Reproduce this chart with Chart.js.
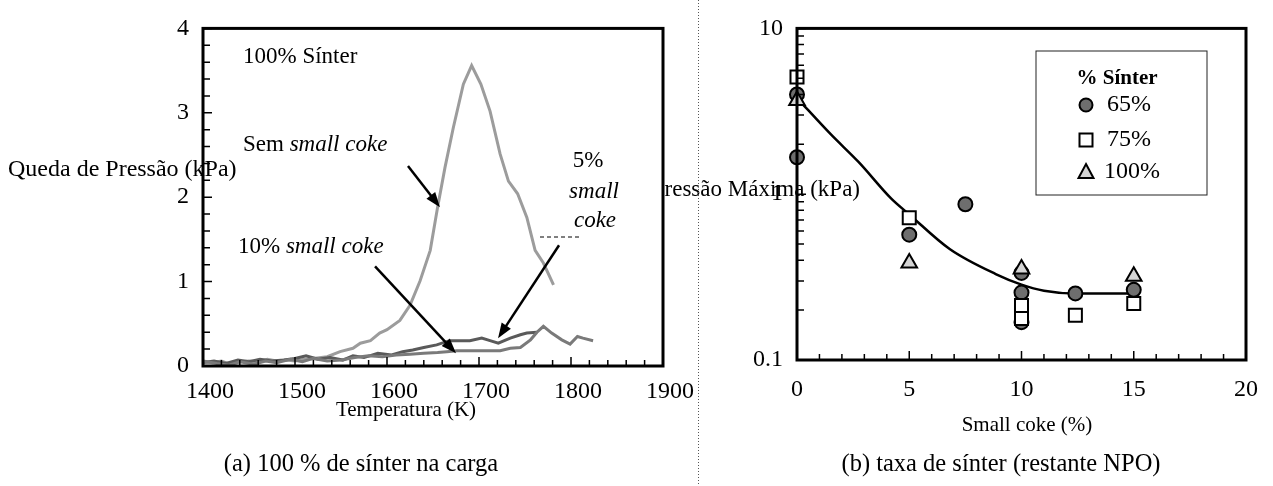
<!DOCTYPE html>
<html>
<head>
<meta charset="utf-8">
<script src="https://cdn.jsdelivr.net/npm/chart.js@4.4.1/dist/chart.umd.min.js"></script>
<style>
  html, body { margin: 0; padding: 0; background: #fff; }
  #wrap { position: relative; width: 1273px; height: 486px; overflow: hidden; }
  #chartRight { position: absolute; left: 655px; top: 0; z-index: 1; }
  #chartLeft { position: absolute; left: 0; top: 0; z-index: 2; }
</style>
</head>
<body>
<div id="wrap">
  <canvas id="chartRight" width="618" height="486"></canvas>
  <canvas id="chartLeft" width="698" height="486"></canvas>
</div>
<script>
// (a) pressure drop vs temperature, 100% sinter burden
const tempNoCoke = [1400, 1410, 1420, 1430, 1440, 1450, 1460, 1470, 1480, 1490, 1500, 1510, 1520, 1535, 1549, 1563, 1571, 1582, 1592, 1600, 1614, 1625, 1636, 1647, 1655, 1663, 1672, 1683, 1692, 1702, 1712, 1723, 1732, 1742, 1752, 1761, 1770, 1781]
const dpNoCoke = [0.05, 0.04, 0.06, 0.02, 0.05, 0.06, 0.05, 0.08, 0.06, 0.07, 0.06, 0.08, 0.09, 0.11, 0.17, 0.21, 0.27, 0.30, 0.39, 0.43, 0.54, 0.72, 1.01, 1.37, 1.88, 2.35, 2.82, 3.34, 3.56, 3.34, 3.02, 2.51, 2.19, 2.04, 1.76, 1.37, 1.22, 0.96]

const temp5 = [1400, 1412, 1425, 1438, 1450, 1462, 1475, 1488, 1500, 1512, 1525, 1538, 1552, 1563, 1575, 1590, 1605, 1617, 1628, 1640, 1654, 1668, 1680, 1690, 1703, 1712, 1721, 1734, 1745, 1752, 1763]
const dp5 = [0.04, 0.06, 0.03, 0.07, 0.05, 0.08, 0.06, 0.07, 0.09, 0.12, 0.08, 0.10, 0.07, 0.12, 0.10, 0.15, 0.13, 0.17, 0.19, 0.22, 0.25, 0.30, 0.30, 0.30, 0.33, 0.30, 0.27, 0.33, 0.37, 0.39, 0.40]

const temp10 = [1400, 1415, 1428, 1440, 1455, 1468, 1480, 1495, 1508, 1520, 1535, 1550, 1565, 1580, 1595, 1610, 1625, 1640, 1655, 1665, 1676, 1700, 1723, 1734, 1745, 1756, 1763, 1770, 1779, 1790, 1799, 1807, 1813, 1824]
const dp10 = [0.06, 0.03, 0.01, 0.05, 0.02, 0.06, 0.04, 0.08, 0.05, 0.09, 0.06, 0.07, 0.10, 0.12, 0.11, 0.13, 0.14, 0.15, 0.16, 0.17, 0.18, 0.18, 0.18, 0.21, 0.22, 0.31, 0.40, 0.47, 0.39, 0.31, 0.26, 0.35, 0.33, 0.30]

const tempTicks = [1400, 1500, 1600, 1700, 1800, 1900]

// (b) maximum pressure vs small coke, by sinter ratio
const coke65 = [0, 0, 5, 7.5, 10, 10, 10, 12.4, 15]
const pmax65 = [4.0, 1.67, 0.57, 0.87, 0.335, 0.255, 0.169, 0.252, 0.265]
const coke75 = [0, 5, 10, 10, 12.4, 15]
const pmax75 = [5.1, 0.72, 0.213, 0.178, 0.186, 0.219]
const coke100 = [0, 5, 10, 15]
const pmax100 = [3.67, 0.385, 0.354, 0.32]
const cokeFit = [0, 1.5, 2.75, 4.2, 5, 6.8, 8.85, 10, 11, 12.4, 15]
const pmaxFit = [3.8, 2.3, 1.56, 0.94, 0.755, 0.467, 0.33, 0.285, 0.262, 0.252, 0.252]

const legendLabels = ['65%', '75%', '100%']

const SERIF = "'Liberation Serif', 'Times New Roman', serif"
Chart.defaults.font.family = SERIF
Chart.defaults.color = '#000'

const pts = (xs, ys) => xs.map((x, i) => ({ x, y: ys[i] }))

function font(size, style = '', weight = '') {
  return `${style} ${weight} ${size}px ${SERIF}`.trim()
}

function text(ctx, str, x, y, size, align = 'left', style = '') {
  ctx.font = font(size, style)
  ctx.textAlign = align
  ctx.textBaseline = 'middle'
  ctx.fillText(str, x, y)
}

// plain label followed by an italic part
function mixed(ctx, plain, ital, x, y, size) {
  ctx.font = font(size)
  ctx.textAlign = 'left'
  ctx.textBaseline = 'middle'
  ctx.fillText(plain, x, y)
  const w = ctx.measureText(plain).width
  ctx.font = font(size, 'italic')
  ctx.fillText(ital, x + w, y)
}

function arrow(ctx, x1, y1, x2, y2) {
  const a = Math.atan2(y2 - y1, x2 - x1), len = 15, w = 5.5
  ctx.lineWidth = 2.5
  ctx.beginPath()
  ctx.moveTo(x1, y1)
  ctx.lineTo(x2 - Math.cos(a) * len * 0.8, y2 - Math.sin(a) * len * 0.8)
  ctx.stroke()
  ctx.beginPath()
  ctx.moveTo(x2, y2)
  ctx.lineTo(x2 - len * Math.cos(a) + w * Math.sin(a), y2 - len * Math.sin(a) - w * Math.cos(a))
  ctx.lineTo(x2 - len * Math.cos(a) - w * Math.sin(a), y2 - len * Math.sin(a) + w * Math.cos(a))
  ctx.closePath()
  ctx.fill()
}

// inward tick marks on bottom and left axes plus the plot frame
function frameAndTicks(chart, xTicks, yTicks) {
  const { ctx, chartArea: a, scales: { x, y } } = chart
  ctx.save()
  ctx.strokeStyle = '#000'
  ctx.lineWidth = 1.5
  ctx.beginPath()
  xTicks.forEach(([v, len]) => {
    const px = x.getPixelForValue(v)
    ctx.moveTo(px, a.bottom)
    ctx.lineTo(px, a.bottom - len)
  })
  yTicks.forEach(([v, len]) => {
    const py = y.getPixelForValue(v)
    ctx.moveTo(a.left, py)
    ctx.lineTo(a.left + len, py)
  })
  ctx.stroke()
  ctx.lineWidth = 3
  ctx.strokeRect(a.left, a.top, a.right - a.left, a.bottom - a.top)
  ctx.restore()
}

const leftDecor = {
  id: 'leftDecor',
  // white plot background, it hides whatever of the neighbour panel runs under it
  beforeDatasetsDraw(chart) {
    const { ctx, chartArea: a } = chart
    ctx.save()
    ctx.fillStyle = '#fff'
    ctx.fillRect(a.left, a.top, a.right - a.left, a.bottom - a.top)
    ctx.restore()
  },
  afterDraw(chart) {
    const { ctx, scales: { x, y } } = chart
    const xt = [], yt = []
    for (let t = 1400; t <= 1900; t += 20) xt.push([t, t % 100 === 0 ? 9 : 6])
    for (let i = 0; i <= 20; i++) yt.push([i * 0.2, i % 5 === 0 ? 9 : 7])
    frameAndTicks(chart, xt, yt)

    ctx.save()
    ctx.fillStyle = '#000'
    ctx.strokeStyle = '#000'
    text(ctx, '100% Sínter', 243, 57, 23)
    mixed(ctx, 'Sem ', 'small coke', 243, 145, 23)
    mixed(ctx, '10% ', 'small coke', 238, 247, 23)
    text(ctx, '5%', 588, 161, 23, 'center')
    text(ctx, 'small', 594, 192, 23, 'center', 'italic')
    text(ctx, 'coke', 595, 221, 23, 'center', 'italic')

    ctx.lineWidth = 1
    ctx.setLineDash([4, 3])
    ctx.beginPath(); ctx.moveTo(540, 237); ctx.lineTo(582, 237); ctx.stroke()
    ctx.setLineDash([])

    const px = (t, v) => [x.getPixelForValue(t), y.getPixelForValue(v)]
    arrow(ctx, ...px(1622.8, 2.37), ...px(1657.6, 1.88))
    arrow(ctx, ...px(1587, 1.18), ...px(1675, 0.15))
    arrow(ctx, ...px(1787, 1.43), ...px(1720.7, 0.33))

    text(ctx, 'Queda de Pressão (kPa)', 8, 170, 24)
    text(ctx, 'Temperatura (K)', 406, 410, 21, 'center')
    text(ctx, '(a) 100 % de sínter na carga', 361, 465, 24.5, 'center')
    ctx.restore()
  }
}

function marker(ctx, style, cx, cy) {
  ctx.lineWidth = 2
  ctx.strokeStyle = '#000'
  ctx.beginPath()
  if (style === 'circle') {
    ctx.fillStyle = '#6e6e6e'
    ctx.arc(cx, cy, 6.5, 0, Math.PI * 2)
  } else if (style === 'rect') {
    ctx.fillStyle = '#fff'
    ctx.rect(cx - 6.5, cy - 6.5, 13, 13)
  } else {
    ctx.fillStyle = '#d4d4d4'
    ctx.moveTo(cx, cy - 8)
    ctx.lineTo(cx + 7.5, cy + 6)
    ctx.lineTo(cx - 7.5, cy + 6)
    ctx.closePath()
  }
  ctx.fill()
  ctx.stroke()
}

const OFF = 655 // right canvas left edge on the page

const rightDecor = {
  id: 'rightDecor',
  afterDraw(chart) {
    const { ctx } = chart
    const xt = [], yt = []
    for (let c = 0; c <= 20; c++) xt.push([c, c % 5 === 0 ? 9 : 6])
    ;[0.1, 1].forEach(d => { for (let m = 1; m <= 9; m++) yt.push([d * m, m === 1 ? 9 : 7]) })
    yt.push([10, 9])
    frameAndTicks(chart, xt, yt)

    ctx.save()
    ctx.fillStyle = '#000'
    // legend box
    ctx.strokeStyle = '#222'
    ctx.lineWidth = 1
    ctx.strokeRect(1036 - OFF, 51, 171, 144)
    ctx.font = font(21, '', 'bold')
    ctx.textAlign = 'center'
    ctx.textBaseline = 'middle'
    ctx.fillText('% Sínter', 1117 - OFF, 79)
    const styles = ['circle', 'rect', 'triangle']
    const rows = [105, 140, 172]
    styles.forEach((s, i) => {
      marker(ctx, s, 1086 - OFF, rows[i])
      ctx.fillStyle = '#000'
      text(ctx, legendLabels[i], (i === 2 ? 1104 : 1107) - OFF, rows[i], 24)
    })

    ctx.fillStyle = '#000'
    text(ctx, 'Pressão Máxima (kPa)', 860 - OFF, 190, 23, 'right')
    text(ctx, 'Small coke (%)', 1027 - OFF, 425, 21, 'center')
    text(ctx, '(b) taxa de sínter (restante NPO)', 1001 - OFF, 465, 24.5, 'center')

    // panel separator
    ctx.strokeStyle = '#555'
    ctx.lineWidth = 1
    ctx.setLineDash([1, 2])
    ctx.beginPath(); ctx.moveTo(698 - OFF + 0.5, 0); ctx.lineTo(698 - OFF + 0.5, 486); ctx.stroke()
    ctx.restore()
  }
}

const hiddenGrid = { display: false, drawTicks: false }

new Chart(document.getElementById('chartLeft'), {
  type: 'line',
  data: {
    datasets: [
      { data: pts(temp10, dp10), borderColor: '#7a7a7a', borderWidth: 3 },
      { data: pts(temp5, dp5), borderColor: '#5a5a5a', borderWidth: 3 },
      { data: pts(tempNoCoke, dpNoCoke), borderColor: '#9c9c9c', borderWidth: 3 },
    ],
  },
  options: {
    responsive: false,
    animation: false,
    events: [],
    elements: { point: { radius: 0 }, line: { tension: 0 } },
    layout: { padding: { left: 0, top: 27, right: 35, bottom: 0 } },
    plugins: { legend: { display: false }, tooltip: { enabled: false } },
    scales: {
      x: {
        type: 'linear', min: 1400, max: 1900,
        afterBuildTicks: s => { s.ticks = tempTicks.map(v => ({ value: v })) },
        ticks: { font: { size: 24 }, padding: 11, labelOffset: 7, maxRotation: 0, callback: v => String(v) },
        grid: hiddenGrid, border: { display: false },
        afterFit: s => { s.height = 120 },
      },
      y: {
        min: 0, max: 4,
        ticks: { stepSize: 1, font: { size: 24 }, padding: 14 },
        grid: hiddenGrid, border: { display: false },
        afterFit: s => { s.width = 203 },
      },
    },
  },
  plugins: [leftDecor],
})

const isDecade = v => Math.abs(Math.log10(v) - Math.round(Math.log10(v))) < 1e-6

new Chart(document.getElementById('chartRight'), {
  type: 'scatter',
  data: {
    datasets: [
      { type: 'line', data: pts(cokeFit, pmaxFit), borderColor: '#000', borderWidth: 2.5, pointRadius: 0, cubicInterpolationMode: 'monotone', order: 4 },
      { data: pts(coke65, pmax65), pointStyle: 'circle', pointRadius: 7, backgroundColor: '#6e6e6e', borderColor: '#000', borderWidth: 2, order: 3, clip: false },
      { data: pts(coke75, pmax75), pointStyle: 'rect', pointRadius: 9.2, backgroundColor: '#fff', borderColor: '#000', borderWidth: 2, order: 2, clip: false },
      { data: pts(coke100, pmax100), pointStyle: 'triangle', pointRadius: 9, backgroundColor: '#d4d4d4', borderColor: '#000', borderWidth: 2, order: 1, clip: false },
    ],
  },
  options: {
    responsive: false,
    animation: false,
    events: [],
    layout: { padding: { left: 0, top: 25, right: 17, bottom: 0 } },
    plugins: { legend: { display: false }, tooltip: { enabled: false } },
    scales: {
      x: {
        type: 'linear', min: 0, max: 20,
        ticks: { stepSize: 5, font: { size: 24 }, padding: 15, maxRotation: 0 },
        grid: hiddenGrid, border: { display: false },
        afterFit: s => { s.height = 126 },
      },
      y: {
        type: 'logarithmic', min: 0.1, max: 10,
        ticks: { font: { size: 24 }, padding: 14, autoSkip: false, callback: v => isDecade(v) ? String(Number(v.toPrecision(3))) : '' },
        grid: hiddenGrid, border: { display: false },
        afterFit: s => { s.width = 142 },
      },
    },
  },
  plugins: [rightDecor],
})
</script>
</body>
</html>
